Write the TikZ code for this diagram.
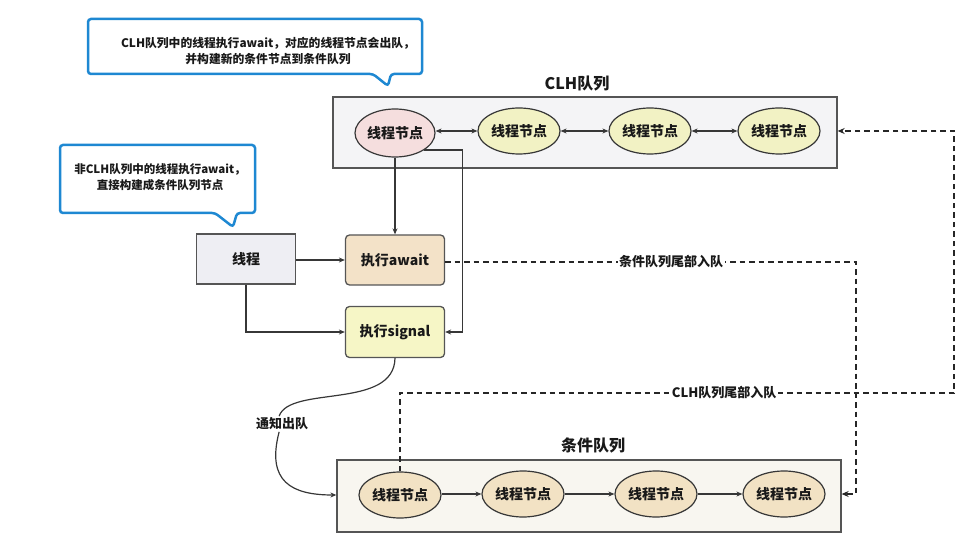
\documentclass[tikz,border=0pt]{standalone}
\usepackage{fontspec}
\setmainfont{Noto Sans CJK SC}
\usetikzlibrary{arrows.meta,calc,shapes.geometric}
\definecolor{callblue}{RGB}{30,136,210}
\definecolor{edge}{RGB}{55,55,55}
\definecolor{boxedge}{RGB}{85,85,85}
\definecolor{txt}{RGB}{25,25,25}
\definecolor{pinkfill}{RGB}{245,222,222}
\definecolor{yelfill}{RGB}{242,242,196}
\definecolor{beigefill}{RGB}{242,226,196}
\definecolor{awfill}{RGB}{243,226,200}
\definecolor{sigfill}{RGB}{246,246,198}
\definecolor{thfill}{RGB}{238,238,243}
\definecolor{clhfill}{RGB}{244,244,246}
\definecolor{condfill}{RGB}{248,246,240}
\begin{document}
\begin{tikzpicture}[x=1pt,y=-1pt,
  every node/.style={text=txt},
  nodefont/.style={font=\bfseries\fontsize{14}{16}\selectfont},
  ell/.style={ellipse, draw=edge, line width=1.2pt, minimum width=82pt, minimum height=46pt, inner sep=0pt, nodefont},
  qbox/.style={draw=boxedge, line width=1.3pt, inner sep=0pt},
  actbox/.style={draw=boxedge, line width=1.3pt, minimum width=99pt, minimum height=50pt, inner sep=0pt, nodefont},
  title/.style={font=\bfseries\fontsize{16}{18}\selectfont},
  lab/.style={fill=white, inner sep=1.5pt, font=\bfseries\fontsize{13}{15}\selectfont},
  callout/.style={draw=callblue, line width=2.5pt, fill=white, rounded corners=3pt},
  calltext/.style={align=center, font=\bfseries\fontsize{11.8}{16}\selectfont},
  arr/.style={draw=edge, line width=1.2pt, -{Stealth[length=6pt,width=5pt]}},
  dbl/.style={draw=edge, line width=1.2pt, {Stealth[length=6pt,width=5pt]}-{Stealth[length=6pt,width=5pt]}},
  dsh/.style={draw=black!85, line width=1.3pt, dash pattern=on 5.5pt off 4pt, -{Stealth[length=7pt,width=6pt]}}
]
\useasboundingbox (0,0) rectangle (978,548);

% callouts
\draw[callout] (88,19) -- (422,19) -- (422,74) -- (391,74) -- (388,86) -- (373,74) -- (88,74) -- cycle;
\node[calltext] (call1) at (268,51) {CLH队列中的线程执行await，对应的线程节点会出队，\\并构建新的条件节点到条件队列};
\draw[callout] (60,145) -- (255,145) -- (255,213) -- (237,213) -- (233,227) -- (215,213) -- (60,213) -- cycle;
\node[calltext, font=\bfseries\fontsize{11.5}{16}\selectfont] (call2) at (160,177) {非CLH队列中的线程执行await，\\直接构建成条件队列节点};

% CLH queue
\node[title] (clhtitle) at (577,84) {CLH队列};
\node[qbox, fill=clhfill, minimum width=504pt, minimum height=71pt] (clh) at (585,132.5) {};
\node[ell, fill=pinkfill, minimum width=80pt, minimum height=48pt] (c1) at (395,133) {线程节点};
\node[ell, fill=yelfill] (c2) at (519,131) {线程节点};
\node[ell, fill=yelfill] (c3) at (650,131) {线程节点};
\node[ell, fill=yelfill] (c4) at (779,131) {线程节点};
\draw[dbl] (c1.east |- c2) -- (c2.west);
\draw[dbl] (c2.east) -- (c3.west);
\draw[dbl] (c3.east) -- (c4.west);

% middle
\node[actbox, fill=thfill] (th) at (246,259) {线程};
\node[actbox, fill=awfill, rounded corners=4pt] (aw) at (395,260) {执行await};
\node[actbox, fill=sigfill, rounded corners=4pt, minimum height=51pt] (sig) at (395,332) {执行signal};

\draw[arr] (th.east |- aw) -- (aw.west);
\draw[arr] (th.south) |- (sig.west);
\draw[arr] (c1.south) -- (aw.north);
\draw[arr] (c1.-30) -- ++(38,0) |- (sig.east);

% condition queue
\node[title] (condtitle) at (593,445) {条件队列};
\node[qbox, fill=condfill, minimum width=504pt, minimum height=72pt] (cond) at (589,496) {};
\node[ell, fill=beigefill] (b1) at (400,495) {线程节点};
\node[ell, fill=beigefill] (b2) at (523,494) {线程节点};
\node[ell, fill=beigefill] (b3) at (656,494) {线程节点};
\node[ell, fill=beigefill] (b4) at (784,494) {线程节点};
\draw[arr] (b1.east |- b2) -- (b2.west);
\draw[arr] (b2.east) -- (b3.west);
\draw[arr] (b3.east) -- (b4.west);

% signal -> condition queue
\node[lab, fill=none] (notify) at (282,424) {通知出队};
\draw[draw=edge, line width=1.2pt] (sig.south) .. controls (394,410) and (290,385) .. (notify.110);
\draw[arr] (notify.250) .. controls (266,482) and (292,495) .. (b1 -| cond.west);

% dashed connectors
\coordinate (d1) at (856,262);
\coordinate (d2) at (954,393);
\draw[dsh] (aw.east |- d1) -- node[lab, pos=0.55] (l1) {条件队列尾部入队} (d1) |- (b4 -| cond.east);
\draw[dsh] (b1.north) -- (b1.north |- d2) -- node[lab, pos=0.585] (l2) {CLH队列尾部入队} (d2) |- (c4 -| clh.east);
\end{tikzpicture}
\end{document}
